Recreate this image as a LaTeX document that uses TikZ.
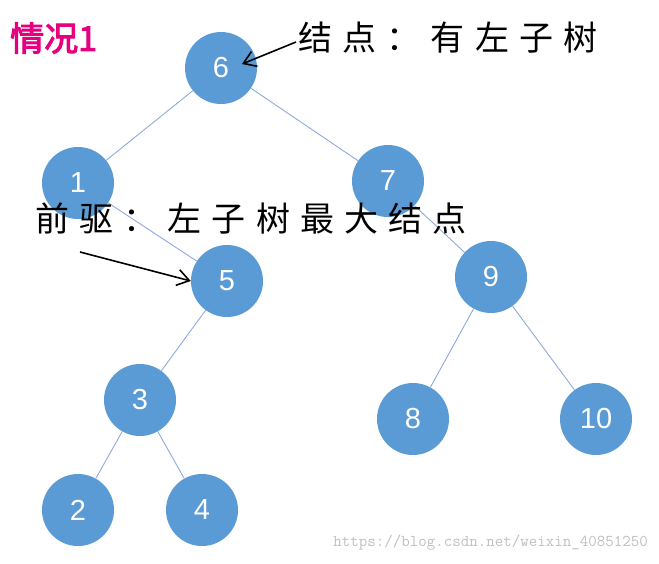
\documentclass[tikz,border=0pt]{standalone}
\usepackage{fontspec}
\newfontfamily\cjk[LetterSpace=30]{Noto Sans CJK SC}
\newfontfamily\cjkbold[FakeBold=3]{Noto Sans CJK SC}
\newfontfamily\numfont{Liberation Sans}
\usetikzlibrary{arrows.meta}
\definecolor{nodeblue}{HTML}{5B9BD5}
\definecolor{edgeblue}{HTML}{8FAADC}
\definecolor{titlepink}{HTML}{E4007F}
\tikzset{
  tnode/.style={circle, fill=nodeblue, minimum size=72pt, inner sep=0pt,
    text=white, font=\numfont\fontsize{29}{29}\selectfont},
  tedge/.style={draw=edgeblue, line width=0.9pt},
  note/.style={font=\cjk\fontsize{34}{34}\selectfont, anchor=west, inner sep=0pt},
  pointer/.style={-{Straight Barb[length=12pt,width=16pt]}, line width=1.6pt}
}
\begin{document}
\begin{tikzpicture}[x=1pt,y=-1pt]
  \useasboundingbox (0,0) rectangle (659,563);

  \node[tnode] (n6) at (221,68) {6};
  \node[tnode] (n1) at (78,183) {1};
  \node[tnode] (n7) at (388,181) {7};
  \node[tnode] (n5) at (227,281) {5};
  \node[tnode] (n9) at (491,277) {9};
  \node[tnode] (n3) at (140,400) {3};
  \node[tnode] (n8) at (413,419) {8};
  \node[tnode] (n10) at (596,419) {10};
  \node[tnode] (n2) at (78,510) {2};
  \node[tnode] (n4) at (202,510) {4};

  \path[tedge] (n6) to (n1);
  \path[tedge] (n6) to (n7);
  \path[tedge] (n1) to (n5);
  \path[tedge] (n7) to (n9);
  \path[tedge] (n5) to (n3);
  \path[tedge] (n3) to (n2);
  \path[tedge] (n3) to (n4);
  \path[tedge] (n9) to (n8);
  \path[tedge] (n9) to (n10);

  \node[anchor=west, inner sep=0pt, text=titlepink, draw=none,
    font=\cjkbold\fontsize{34}{34}\selectfont] (title) at (10,38) {情况1};

  \node[note] (nodetext) at (298,38) {结点：有左子树};
  \node[note] (predtext) at (35,218) {前驱：左子树最大结点};

  \coordinate (a1) at (296,42);
  \coordinate (t1) at (242,64);
  \coordinate (a2) at (80,252);
  \draw[pointer] (a1) -- (t1);
  \draw[pointer] (a2) -- (n5.west);

  \node[anchor=east, inner sep=0pt, text=black!25,
    font=\ttfamily\fontsize{16.5}{16.5}\selectfont] (mark) at (648,543)
    {https://blog.csdn.net/weixin\_40851250};
\end{tikzpicture}
\end{document}
